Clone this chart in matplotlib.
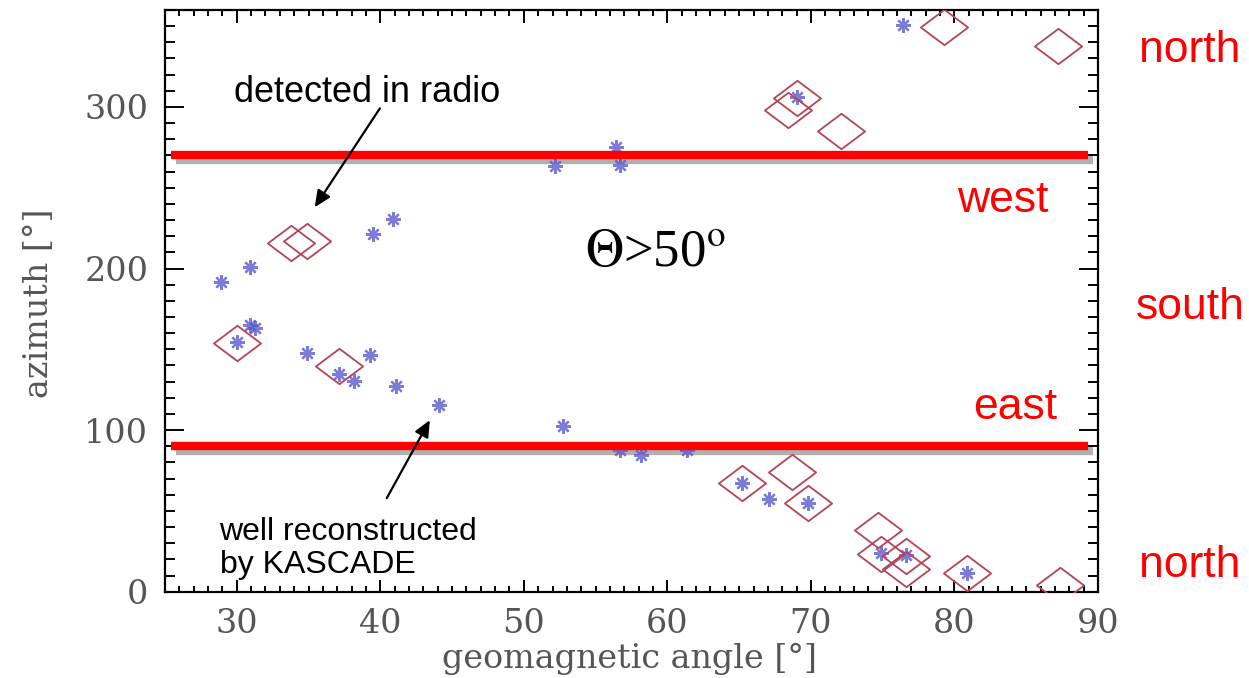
import matplotlib
matplotlib.use("Agg")
import matplotlib.pyplot as plt
import matplotlib.transforms as mtransforms
from matplotlib.path import Path
from matplotlib.ticker import MultipleLocator

plt.rcParams['mathtext.fontset'] = 'stix'

# Events well reconstructed by KASCADE (asterisks)
kascade_angle = [28.9, 30.9, 39.5, 40.9, 30.9, 31.25, 30.05, 34.9, 37.1, 38.2,
                 39.3, 41.1, 44.1, 52.2, 56.4, 56.7, 69.0, 76.4, 52.7, 58.15,
                 56.7, 61.4, 65.2, 67.1, 69.8, 74.9, 76.6, 80.85]
kascade_azimuth = [191.7, 201.0, 221.6, 230.5, 164.9, 162.9, 154.6, 147.8, 135.0, 130.3,
                   146.4, 127.2, 115.5, 263.3, 275.2, 263.9, 306.1, 351.0, 102.5, 84.5,
                   87.5, 87.5, 67.0, 57.3, 54.7, 23.7, 22.5, 11.4]

# Events detected in radio (diamonds)
radio_angle = [33.8, 34.9, 30.05, 37.1, 68.4, 69.0, 72.1, 79.3, 87.2,
               65.2, 68.7, 69.8, 74.7, 74.9, 76.6, 76.6, 80.85, 87.35]
radio_azimuth = [215.8, 217.1, 154.2, 139.6, 298.3, 305.8, 285.1, 349.4, 337.7,
                 67.0, 74.2, 54.7, 38.2, 23.5, 22.0, 13.8, 11.4, 4.3]

# Directions of west and east
direction_lines = [270, 90]

fig = plt.figure(figsize=(12.49, 6.78), dpi=100)
ax = fig.add_axes([0.1321, 0.1273, 0.7470, 0.8580])
ax.set_xlim(25, 90)
ax.set_ylim(0, 360)

# Horizontal direction bars with a grey drop shadow
shadow = mtransforms.offset_copy(ax.transData, fig=fig, x=5, y=-5, units='dots')
for yv in direction_lines:
    ax.plot([25.4, 89.3], [yv, yv], color='#b0b0b0', lw=6, solid_capstyle='butt',
            transform=shadow, zorder=1)
    ax.plot([25.4, 89.3], [yv, yv], color='#ff0000', lw=6, solid_capstyle='butt',
            zorder=4)

# Flattened diamond marker
diamond = Path([(-1, 0), (0, 0.75), (1, 0), (0, -0.75), (-1, 0)],
               [Path.MOVETO, Path.LINETO, Path.LINETO, Path.LINETO, Path.CLOSEPOLY])

ax.plot(kascade_angle, kascade_azimuth, linestyle='none', marker=(8, 2, 0),
        markersize=10.5, markeredgewidth=1.6, color='#5b5bcc', alpha=0.8, zorder=2)
ax.plot(radio_angle, radio_azimuth, linestyle='none', marker=diamond,
        markersize=34, markeredgewidth=1.3, markerfacecolor='none',
        markeredgecolor='#b24556', zorder=3)

# Axes styling
for sp in ax.spines.values():
    sp.set_linewidth(1.6)
    sp.set_color('black')
ax.xaxis.set_major_locator(MultipleLocator(10))
ax.xaxis.set_minor_locator(MultipleLocator(1))
ax.yaxis.set_major_locator(MultipleLocator(100))
ax.yaxis.set_minor_locator(MultipleLocator(10))
ax.tick_params(which='both', direction='in', top=True, right=True, color='black', width=1.4)
ax.tick_params(axis='x', which='major', length=9, pad=12)
ax.tick_params(axis='x', which='minor', length=4.5)
ax.tick_params(axis='y', which='major', length=14, pad=12)
ax.tick_params(axis='y', which='minor', length=7)
for lab in ax.get_xticklabels() + ax.get_yticklabels():
    lab.set_fontfamily('DejaVu Serif')
    lab.set_fontsize(24)
    lab.set_color('#555555')

ax.set_xlabel('geomagnetic angle [°]', fontfamily='DejaVu Serif', fontsize=24,
              color='#555555')
ax.xaxis.set_label_coords(0.498, -0.088)
ax.set_ylabel('azimuth [°]', fontfamily='DejaVu Serif', fontsize=24, color='#555555')
ax.yaxis.set_label_coords(-0.118, 0.496)

# Annotations
sans = 'Liberation Sans'
ax.text(39.1, 309, 'detected in radio', fontfamily=sans, fontsize=26,
        ha='center', va='center', zorder=5)
ax.annotate('', xy=(35.43, 237.9), xytext=(39.97, 299.1),
            arrowprops=dict(arrowstyle='-|>,head_length=1.0,head_width=0.45',
                            color='black', lw=1.6, shrinkA=0, shrinkB=0), zorder=5)
ax.text(28.8, 26.7, 'well reconstructed\nby KASCADE', fontfamily=sans, fontsize=23,
        ha='left', va='center', linespacing=1.15, zorder=5)
ax.annotate('', xy=(43.45, 106.2), xytext=(40.45, 57.9),
            arrowprops=dict(arrowstyle='-|>,head_length=1.0,head_width=0.45',
                            color='black', lw=1.6, shrinkA=0, shrinkB=0), zorder=5)
ax.text(54.25, 209.5, '$\\Theta$>50$^{\\mathrm{o}}$', fontfamily='Liberation Serif',
        fontsize=38, ha='left', va='center', zorder=5)

red = '#ff0000'
ax.text(83.4, 242, 'west', fontfamily=sans, fontsize=32, color=red, ha='center', va='center')
ax.text(84.2, 114.2, 'east', fontfamily=sans, fontsize=32, color=red, ha='center', va='center')
ax.text(96.4, 335, 'north', fontfamily=sans, fontsize=32, color=red, ha='center',
        va='center', clip_on=False)
ax.text(96.4, 176, 'south', fontfamily=sans, fontsize=32, color=red, ha='center',
        va='center', clip_on=False)
ax.text(96.4, 16.5, 'north', fontfamily=sans, fontsize=32, color=red, ha='center',
        va='center', clip_on=False)

fig.savefig('out.png', dpi=100)
